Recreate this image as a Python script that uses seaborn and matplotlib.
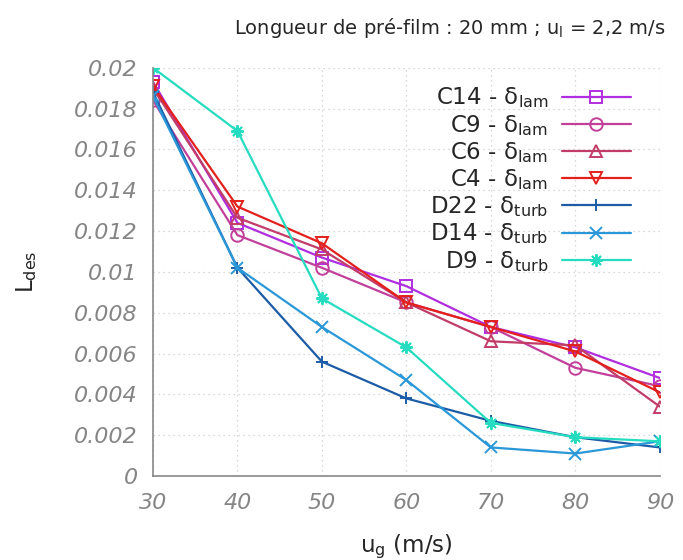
import matplotlib
matplotlib.use("Agg")
import matplotlib.pyplot as plt
import seaborn as sns
import pandas as pd
from matplotlib.ticker import FuncFormatter

ug = [30, 40, 50, 60, 70, 80, 90]

c14 = [0.0193, 0.0124, 0.0107, 0.0093, 0.0073, 0.0063, 0.0048]
c9 = [0.0184, 0.0118, 0.0102, 0.0085, 0.0073, 0.0053, 0.0044]
c6 = [0.0190, 0.01265, 0.0111, 0.0085, 0.0066, 0.0064, 0.0034]
c4 = [0.0191, 0.0132, 0.0114, 0.0085, 0.0073, 0.0061, 0.0041]
d22 = [0.0188, 0.0102, 0.0056, 0.0038, 0.0027, 0.0019, 0.0014]
d14 = [0.0186, 0.0102, 0.0073, 0.0047, 0.0014, 0.0011, 0.0017]
d9 = [0.0200, 0.0169, 0.0087, 0.0063, 0.0026, 0.0019, 0.0017]

labels = [r"C14 - $\mathregular{\delta_{lam}}$", r"C9 - $\mathregular{\delta_{lam}}$",
          r"C6 - $\mathregular{\delta_{lam}}$", r"C4 - $\mathregular{\delta_{lam}}$",
          r"D22 - $\mathregular{\delta_{turb}}$", r"D14 - $\mathregular{\delta_{turb}}$",
          r"D9 - $\mathregular{\delta_{turb}}$"]
series = [c14, c9, c6, c4, d22, d14, d9]
colors = ["#b12ee0", "#c23f9a", "#c23c68", "#e3201c", "#1c5ca6", "#2a98d8", "#25dcc0"]
markers = ["s", "o", "^", "v", "+", "x", (8, 2, 0)]

sns.set_style("white")
plt.rcParams["font.family"] = ["DejaVu Sans"]
plt.rcParams["mathtext.fontset"] = "dejavusans"

fig, ax = plt.subplots(figsize=(6.83, 5.6), dpi=100)
fig.subplots_adjust(left=0.224, right=0.966, top=0.879, bottom=0.15)

for lab, vals, col, mk in zip(labels, series, colors, markers):
    df = pd.DataFrame({"ug": ug, "L": vals})
    sns.lineplot(data=df, x="ug", y="L", ax=ax, color=col, marker=mk, markersize=9,
                 markerfacecolor="none", markeredgecolor=col, markeredgewidth=1.4,
                 linewidth=1.6, label=lab)

ax.set_xlim(30, 90)
ax.set_ylim(0, 0.02)
ax.set_xticks(ug)
ax.set_yticks([i * 0.002 for i in range(11)])
ax.yaxis.set_major_formatter(FuncFormatter(lambda v, p: "%g" % round(v, 4)))
ax.grid(True, color="#cccccc", linestyle=(0, (1, 3)), linewidth=0.9)
for s in ["top", "right"]:
    ax.spines[s].set_visible(False)
for s in ["left", "bottom"]:
    ax.spines[s].set_color("#888888")
    ax.spines[s].set_linewidth(1.2)
ax.tick_params(axis="both", direction="in", length=8, width=1, color="#888888",
               labelcolor="#858585", labelsize=16)
ax.tick_params(axis="y", pad=11)
ax.tick_params(axis="x", pad=12)
for t in ax.get_xticklabels() + ax.get_yticklabels():
    t.set_fontstyle("italic")

ax.set_xlabel(r"u$_\mathregular{g}$ (m/s)", fontsize=16.5, labelpad=14)
ax.set_ylabel(r"L$_\mathregular{des}$", fontsize=16.5, labelpad=25)
fig.text(0.975, 0.95, r"Longueur de pré-film : 20 mm ; u$_\mathregular{l}$ = 2,2 m/s",
         fontsize=14, ha="right", va="center")

leg = ax.legend(loc="upper right", bbox_to_anchor=(0.97, 0.99), frameon=False, markerfirst=False,
                fontsize=16.5, handlelength=3.0, labelspacing=0.1, borderaxespad=0.2,
                handletextpad=0.6)
for t in leg.get_texts():
    t.set_ha("right")

fig.savefig("out.png", dpi=100)
